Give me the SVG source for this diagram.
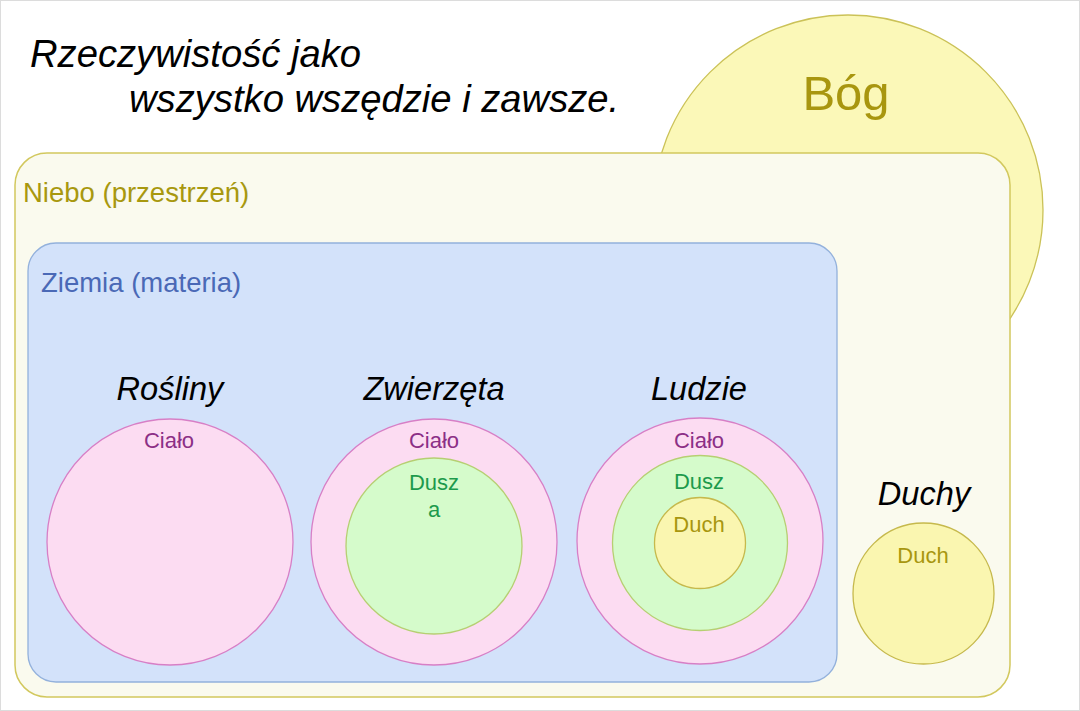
<svg xmlns="http://www.w3.org/2000/svg" width="1080" height="711" viewBox="0 0 1080 711">
<style>
text{font-family:"Liberation Sans",Arial,sans-serif}
.title{font-size:38.2px;font-style:italic;fill:#000}
.grp{font-size:32.6px;font-style:italic;fill:#000;text-anchor:middle}
.lbl{font-size:22px;text-anchor:middle}
.body{fill:#fcdcf2;stroke:#d77fc6;stroke-width:1.3}
.soul{fill:#d5fbcb;stroke:#b6cf72;stroke-width:1.3}
.spirit{fill:#faf6b0;stroke:#c6b94c;stroke-width:1.3}
.tb{fill:#8c2f86}
.ts{fill:#1d9a4c}
.tp{fill:#a8960f}
</style>
<rect x="0.5" y="0.5" width="1079" height="710" fill="#fff" stroke="#dcdcdc" stroke-width="1"/>
<g id="title">
<text class="title" x="30" y="67">Rzeczywistość jako</text>
<text class="title" x="129" y="112">wszystko wszędzie i zawsze.</text>
</g>
<g id="bog">
<circle cx="848" cy="210" r="195" fill="#fbf8b8" stroke="#cbc258" stroke-width="1.3"/>
<text x="846" y="110" font-size="49" text-anchor="middle" fill="#a8960f">Bóg</text>
</g>
<g id="niebo">
<rect x="15" y="153" width="995" height="544" rx="32" fill="#fafaee" stroke="#d2c85e" stroke-width="1.5"/>
<text x="23" y="202" font-size="27.5" fill="#a8980f">Niebo (przestrzeń)</text>
</g>
<g id="ziemia">
<rect x="28" y="243" width="809" height="439" rx="28" fill="#d3e2fa" stroke="#93b1dc" stroke-width="1.3"/>
<text x="41" y="292" font-size="27.5" fill="#4a69b6">Ziemia (materia)</text>
</g>
<g id="rosliny">
<text class="grp" x="170" y="400">Rośliny</text>
<circle class="body" cx="170" cy="542" r="123"/>
<text class="lbl tb" x="169" y="448">Ciało</text>
</g>
<g id="zwierzeta">
<text class="grp" x="434" y="400">Zwierzęta</text>
<circle class="body" cx="434" cy="542" r="123"/>
<circle class="soul" cx="434" cy="546" r="88"/>
<text class="lbl tb" x="434" y="448">Ciało</text>
<text class="lbl ts" x="434" y="490">Dusz</text>
<text class="lbl ts" x="434" y="517">a</text>
</g>
<g id="ludzie">
<text class="grp" x="699" y="400">Ludzie</text>
<circle class="body" cx="700" cy="541" r="123"/>
<circle class="soul" cx="700" cy="543" r="87.5"/>
<circle class="spirit" cx="700" cy="543" r="45.5"/>
<text class="lbl tb" x="699" y="448">Ciało</text>
<text class="lbl ts" x="699" y="489">Dusz</text>
<text class="lbl tp" x="699" y="532">Duch</text>
</g>
<g id="duchy">
<text class="grp" x="924" y="505">Duchy</text>
<circle class="spirit" cx="923.5" cy="593.5" r="70.5"/>
<text class="lbl tp" x="923" y="563">Duch</text>
</g>
<g id="connectors"></g>
</svg>
